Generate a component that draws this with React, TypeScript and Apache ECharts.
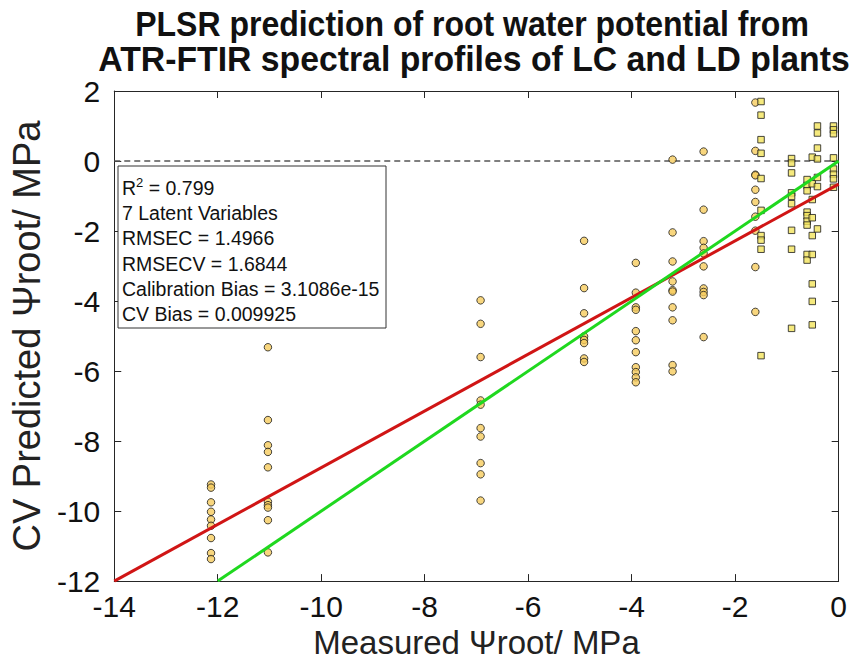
import React, { useEffect, useRef } from "react";
import * as echarts from "echarts";

// ---- data ----
const TITLE_LINES = [
  "PLSR prediction of root water potential from",
  "ATR-FTIR spectral profiles of LC and LD plants",
];
const X_NAME = "Measured \u03A8root/ MPa";
const Y_NAME = "CV Predicted \u03A8root/ MPa";

// circles: measured levels and the predicted values at each level
const CIRCLE_X = [-12.13, -11.03, -6.92, -4.92, -3.92, -3.21, -2.61, -1.61];
const CIRCLE_Y_1 = [-9.24, -9.33, -9.75, -10.02, -10.24, -10.42, -10.77, -11.2, -11.37];
const CIRCLE_Y_2 = [-5.32, -7.4, -8.12, -8.31, -8.75, -9.73, -9.83, -9.9, -10.26, -11.18];
const CIRCLE_Y_3 = [-3.98, -4.65, -5.6, -6.84, -6.96, -7.63, -7.87, -8.63, -8.95, -9.7];
const CIRCLE_Y_4 = [-2.28, -3.63, -4.35, -5.01, -5.11, -5.2, -5.64, -5.74];
const CIRCLE_Y_5 = [-2.91, -3.76, -4.18, -4.25, -4.86, -5.12, -5.46, -5.89, -6.03, -6.18, -6.32];
const CIRCLE_Y_6 = [0.04, -2.04, -2.87, -3.44, -3.69, -3.73, -4.18, -4.55, -5.83, -6.01];
const CIRCLE_Y_7 = [0.27, -1.39, -2.29, -2.48, -2.64, -3.01, -3.64, -3.74, -3.83, -5.03];
const CIRCLE_Y_8 = [1.67, 0.29, -0.39, -0.41, -0.82, -1.17, -1.59, -1.99, -3.03, -4.31];
const CIRCLE_Y = [CIRCLE_Y_1, CIRCLE_Y_2, CIRCLE_Y_3, CIRCLE_Y_4, CIRCLE_Y_5, CIRCLE_Y_6, CIRCLE_Y_7, CIRCLE_Y_8];

// squares
const SQUARE_X = [-1.5, -0.91, -0.61, -0.51, -0.41, -0.1];
const SQUARE_Y_1 = [1.7, 1.31, 0.61, 0.22, -0.5, -1.41, -2.13, -2.26, -2.52, -5.56];
const SQUARE_Y_2 = [0.07, -0.06, -0.34, -0.91, -1.01, -1.22, -1.98, -2.52, -4.78];
const SQUARE_Y_3 = [-0.53, -0.7, -0.85, -1.46, -1.56, -1.72, -1.83, -2.67, -2.83];
const SQUARE_Y_4 = [0.11, -0.65, -1.1, -1.62, -2.13, -2.67, -3.51, -4.01, -4.68];
const SQUARE_Y_5 = [1.0, 0.8, 0.37, 0.06, -0.47, -0.73, -1.94];
const SQUARE_Y_6 = [1.0, 0.89, 0.78, 0.09, -0.23, -0.38, -0.51, -0.75];
const SQUARE_Y = [SQUARE_Y_1, SQUARE_Y_2, SQUARE_Y_3, SQUARE_Y_4, SQUARE_Y_5, SQUARE_Y_6];

// fitted regression line (red) and 1:1 line (green)
const FIT_X = [-14, 0];
const FIT_Y = [-12.0, -0.66];
const IDEAL_X = [-12, 0];
const IDEAL_Y = [-12, 0];

const X_MIN = -14, X_MAX = 0, X_STEP = 2;
const Y_MIN = -12, Y_MAX = 2, Y_STEP = 2;

const STATS_LINES = [
  "{t|R}{s|2}{t| = 0.799}",
  "7 Latent Variables",
  "RMSEC = 1.4966",
  "RMSECV = 1.6844",
  "Calibration Bias = 3.1086e-15",
  "CV Bias = 0.009925",
];

const FONT = "'Liberation Sans', Arial, sans-serif";

function pairs(xs: number[], ys: number[][]) {
  const out: number[][] = [];
  xs.forEach((x, i) => ys[i].forEach((y) => out.push([x, y])));
  return out;
}

export default function App() {
  const ref = useRef<HTMLDivElement>(null);
  useEffect(() => {
    if (!ref.current) return;
    const chart = echarts.init(ref.current, undefined, { renderer: "svg" });
    const axisColor = "#262626";
    const GRID = { left: 102, right: 8, top: 91, bottom: 81 };
    const statsX = 118, statsY = 166, statsW = 268, statsH = 162;
    const axisLineStyle = { show: true, onZero: false, lineStyle: { color: axisColor, width: 1 } };
    const tickStyle = { show: true, inside: true, length: 7, lineStyle: { color: axisColor } };
    const titleStyle = { fontFamily: FONT, fontWeight: "bold", fontSize: 32, fill: "#111", align: "center", verticalAlign: "top" };
    chart.setOption({
      animation: false,
      backgroundColor: "#ffffff",
      grid: { ...GRID, containLabel: false },
      xAxis: [
        {
          type: "value", min: X_MIN, max: X_MAX, interval: X_STEP, position: "bottom",
          name: X_NAME, nameLocation: "middle", nameGap: 40,
          nameTextStyle: { fontFamily: FONT, fontSize: 33, color: "#222" },
          axisLine: axisLineStyle, axisTick: tickStyle,
          axisLabel: { fontFamily: FONT, fontSize: 30, color: "#111", margin: 10 },
          splitLine: { show: false },
        },
        {
          type: "value", min: X_MIN, max: X_MAX, interval: X_STEP, position: "top",
          axisLine: axisLineStyle, axisTick: tickStyle,
          axisLabel: { show: false }, splitLine: { show: false },
        },
      ],
      yAxis: [
        {
          type: "value", min: Y_MIN, max: Y_MAX, interval: Y_STEP, position: "left",
          name: Y_NAME, nameLocation: "middle", nameGap: 45,
          nameTextStyle: { fontFamily: FONT, fontSize: 38, color: "#222" },
          axisLine: axisLineStyle, axisTick: tickStyle,
          axisLabel: { fontFamily: FONT, fontSize: 30, color: "#111", margin: 14 },
          splitLine: { show: false },
        },
        {
          type: "value", min: Y_MIN, max: Y_MAX, interval: Y_STEP, position: "right",
          axisLine: axisLineStyle, axisTick: tickStyle,
          axisLabel: { show: false }, splitLine: { show: false },
        },
      ],
      series: [
        {
          type: "line", data: [[X_MIN, 0], [X_MAX, 0]], symbol: "none", silent: true,
          lineStyle: { color: "#555", width: 1.3, type: [6, 4] }, z: 1,
        },
        {
          type: "scatter", data: pairs(CIRCLE_X, CIRCLE_Y), symbol: "circle", symbolSize: 7.5,
          itemStyle: { color: "#F6CC5E", borderColor: "#1a1a1a", borderWidth: 1 }, z: 3,
        },
        {
          type: "scatter", data: pairs(SQUARE_X, SQUARE_Y), symbol: "rect", symbolSize: 6.5,
          itemStyle: { color: "#F2E45C", borderColor: "#1a1a1a", borderWidth: 1 }, z: 3,
        },
        {
          type: "line", data: FIT_X.map((x, i) => [x, FIT_Y[i]]), symbol: "none",
          lineStyle: { color: "#D01515", width: 3 }, z: 4, clip: true,
        },
        {
          type: "line", data: IDEAL_X.map((x, i) => [x, IDEAL_Y[i]]), symbol: "none",
          lineStyle: { color: "#1FD81F", width: 3 }, z: 5, clip: true,
        },
      ],
      graphic: [
        {
          type: "text", x: 472, y: 7, scaleY: 1.08,
          style: { ...titleStyle, text: TITLE_LINES[0] },
        },
        {
          type: "text", x: 474, y: 42, scaleY: 1.08, scaleX: 1.055,
          style: { ...titleStyle, text: TITLE_LINES[1] },
        },
        {
          type: "rect", shape: { x: statsX, y: statsY, width: statsW, height: statsH },
          style: { fill: "#fff", stroke: "#333", lineWidth: 1 }, z: 100,
        },
        ...STATS_LINES.map((t, i) => ({
          type: "text", x: statsX + 4, y: statsY + 22 + i * 25.2, z: 101,
          style: {
            text: t, fontFamily: FONT, fontSize: 19.5, fill: "#111",
            verticalAlign: "middle",
            rich: {
              t: { fontFamily: FONT, fontSize: 19.5, fill: "#111" },
              s: { fontFamily: FONT, fontSize: 13, fill: "#111", verticalAlign: "top", padding: [0, 0, 12, 0] },
            },
          },
        })),
      ],
    });
    return () => chart.dispose();
  }, []);
  return (
    <div
      ref={ref}
      style={{ position: "absolute", left: 0, top: 0, width: 850, height: 664 }}
    />
  );
}
